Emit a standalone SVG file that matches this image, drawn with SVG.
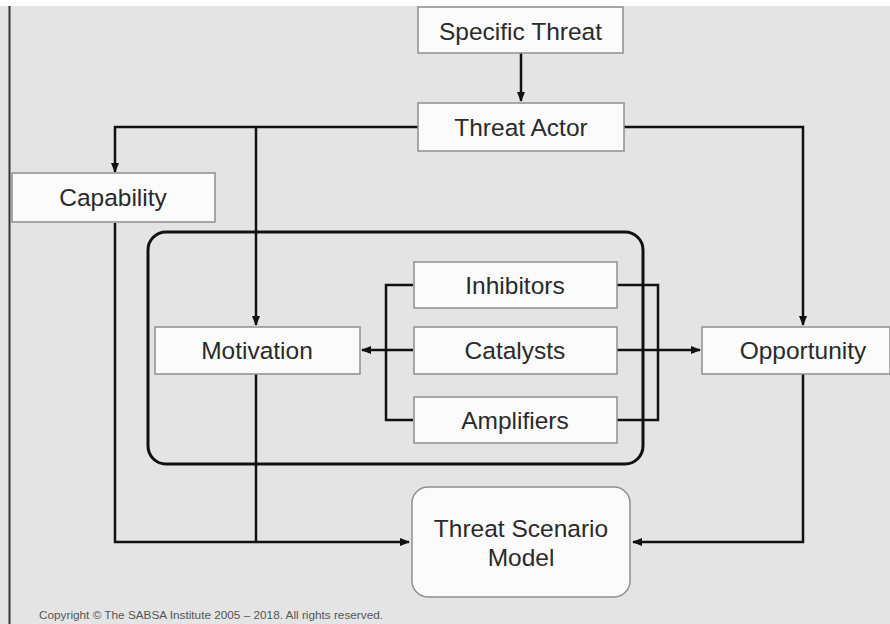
<svg xmlns="http://www.w3.org/2000/svg" width="890" height="624" viewBox="0 0 890 624">
<defs>
<marker id="ah" viewBox="0 0 10 10" refX="9" refY="5" markerWidth="4" markerHeight="4" orient="auto" markerUnits="strokeWidth"><path d="M0,1 L10,5 L0,9 z" fill="#111"/></marker>
<style>
.box{fill:#fbfbfb;stroke:#8e8e8e;stroke-width:1.5}
.t{font-family:"Liberation Sans",Arial,sans-serif;font-size:24.5px;fill:#2a2a2a;text-anchor:middle}
.c{fill:none;stroke:#111;stroke-width:2.5}
.a{marker-end:url(#ah)}
</style>
</defs>
<rect x="0" y="0" width="890" height="624" fill="#ffffff"/>
<rect x="0" y="6" width="890" height="618" fill="#e4e4e4"/>
<line x1="9.5" y1="6" x2="9.5" y2="624" stroke="#333" stroke-width="2"/>
<rect id="container" x="148" y="232" width="495" height="232" rx="18" fill="none" stroke="#111" stroke-width="3"/>
<g id="connectors">
<path class="c a" d="M521,53 V101"/>
<path class="c a" d="M418,127 H115 V172"/>
<path class="c a" d="M256,127 V325"/>
<path class="c a" d="M624,127 H803 V325"/>
<path class="c a" d="M115,223 V542 H409"/>
<path class="c" d="M256,374 V542"/>
<path class="c a" d="M803,374 V542 H633"/>
<path class="c" d="M413,285 H386 V420 H413"/>
<path class="c a" d="M413,350 H362"/>
<path class="c" d="M617,285 H658 V420 H617"/>
<path class="c a" d="M617,350 H700"/>
</g>
<g id="specific-threat"><rect class="box" x="418" y="7" width="205" height="46"/><text class="t" x="520.5" y="40">Specific Threat</text></g>
<g id="threat-actor"><rect class="box" x="418" y="103" width="206" height="48"/><text class="t" x="521" y="136">Threat Actor</text></g>
<g id="capability"><rect class="box" x="12" y="173" width="203" height="49"/><text class="t" x="113" y="206">Capability</text></g>
<g id="motivation"><rect class="box" x="155" y="327" width="205" height="47"/><text class="t" x="257" y="359">Motivation</text></g>
<g id="inhibitors"><rect class="box" x="414" y="262" width="203" height="46"/><text class="t" x="515" y="294">Inhibitors</text></g>
<g id="catalysts"><rect class="box" x="414" y="327" width="203" height="47"/><text class="t" x="515" y="359">Catalysts</text></g>
<g id="amplifiers"><rect class="box" x="414" y="397" width="203" height="46"/><text class="t" x="515" y="429">Amplifiers</text></g>
<g id="opportunity"><rect class="box" x="702" y="327" width="188" height="47"/><text class="t" x="803" y="359">Opportunity</text></g>
<g id="threat-scenario-model"><rect class="box" x="412" y="487" width="218" height="110" rx="16"/><text class="t" x="521" y="537">Threat Scenario</text><text class="t" x="521" y="566">Model</text></g>
<text x="39" y="619" font-family="'Liberation Sans',Arial,sans-serif" font-size="10.5" fill="#555" textLength="344" lengthAdjust="spacingAndGlyphs">Copyright © The SABSA Institute 2005 – 2018. All rights reserved.</text>
</svg>
